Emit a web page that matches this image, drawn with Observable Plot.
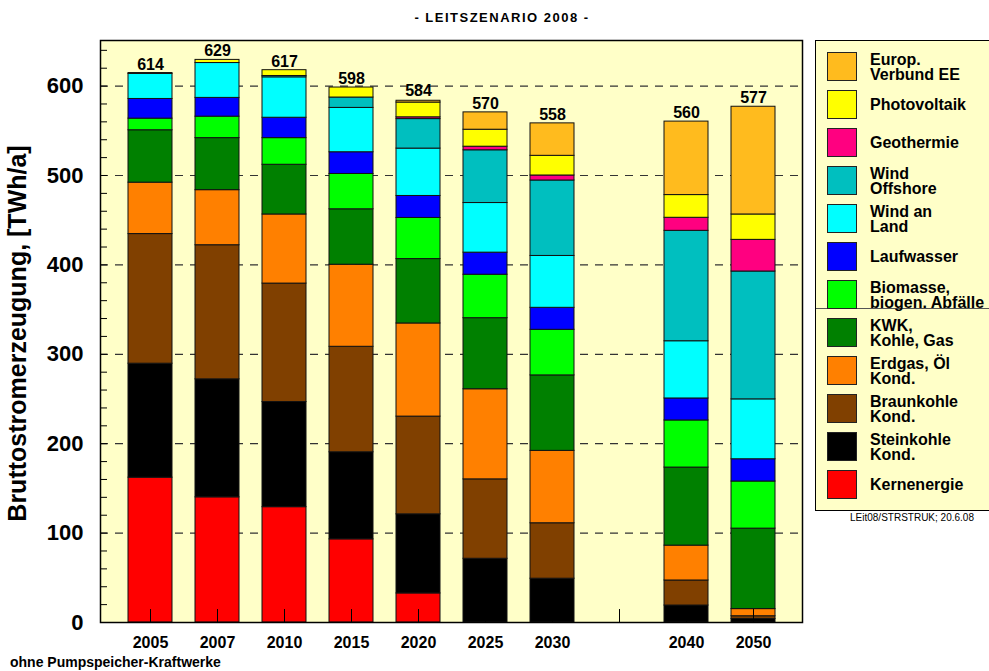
<!DOCTYPE html>
<html>
<head>
<meta charset="utf-8">
<script src="https://cdn.jsdelivr.net/npm/d3@7"></script>
<script src="https://cdn.jsdelivr.net/npm/@observablehq/plot@0.6"></script>
<style>
  html, body { margin: 0; padding: 0; background: #fff; overflow: hidden; }
  #wrap { position: relative; width: 989px; height: 671px; font-family: "Liberation Sans", Arial, sans-serif; color: #000; }
  #wrap svg { position: absolute; left: 0; top: 0; }
  .abs { position: absolute; white-space: nowrap; }
  #title { left: 0; width: 1004px; top: 11px; text-align: center; font-size: 13px; line-height: 13px; font-weight: bold; letter-spacing: 1.5px; }
  #foot { left: 10px; top: 655px; font-size: 14px; line-height: 14px; font-weight: bold; }
  #caption { left: 850px; top: 513px; font-size: 10px; line-height: 10px; }
  #legend { left: 815px; top: 40px; width: 190px; height: 471px; background: #FFFFC8; border: 1.5px solid #000; box-sizing: border-box; overflow: hidden; }
  .sw { position: absolute; left: 11px; width: 30px; height: 29px; border: 1px solid #222; box-sizing: border-box; }
  .lt { position: absolute; left: 54px; height: 29px; display: flex; align-items: center; font-size: 16px; line-height: 15px; font-weight: bold; white-space: pre; }
  #sep { position: absolute; left: 0; width: 100%; top: 267px; height: 1px; background: #555; }
</style>
</head>
<body>
<div id="wrap">
  <div id="title" class="abs">- LEITSZENARIO 2008 -</div>
  <div id="legend" class="abs"><div id="sep"></div></div>
  <div id="caption" class="abs">LEit08/STRSTRUK; 20.6.08</div>
  <div id="foot" class="abs">ohne Pumpspeicher-Kraftwerke</div>
</div>
<script>
// ---- data ----
const years = ["2005","2007","2010","2015","2020","2025","2030","2040","2050"];
const slots = ["2005","2007","2010","2015","2020","2025","2030","2035","2040","2050"];
const totals = [614, 629, 617, 598, 584, 570, 558, 560, 577];

const kernenergie = [162, 140, 129, 93, 32.5, 0, 0, 0, 0];
const steinkohle  = [127.5, 132, 117.6, 97.4, 88.5, 71.3, 49, 19, 4];
const braunkohle  = [145, 150, 132.5, 118, 109.3, 88.8, 62, 28, 3];
const erdgasOel   = [57.5, 61.6, 77.3, 91.8, 104.2, 100.8, 81, 39, 8];
const kwk         = [58.6, 58.2, 55.6, 62, 72, 79.5, 84.4, 87.3, 90];
const biomasse    = [13, 24, 29.8, 39.5, 46, 48.6, 51, 52.7, 52.7];
const laufwasser  = [22, 21, 22.8, 24.3, 24.6, 24.7, 24.6, 24.6, 24.9];
const windLand    = [28, 39, 45.2, 49.6, 53, 55.5, 58, 64, 67];
const windOffshore= [0, 0, 1.5, 11.6, 33, 59, 84.4, 123.5, 143];
const geothermie  = [0, 0, 0, 0, 2, 4, 5.6, 14.6, 35.4];
const photovoltaik= [1, 3.5, 6.5, 11.2, 16.5, 19, 22, 25.4, 28.4];
const europVerbund= [0, 0, 0, 0, 2, 19.4, 36.3, 82.2, 120.5];

// bottom to top
const seriesNames = ["Kernenergie","Steinkohle Kond.","Braunkohle Kond.","Erdgas, Öl Kond.","KWK, Kohle, Gas",
  "Biomasse, biogen. Abfälle","Laufwasser","Wind an Land","Wind Offshore","Geothermie","Photovoltaik","Europ. Verbund EE"];
const legendLabels = ["Kernenergie","Steinkohle\nKond.","Braunkohle\nKond.","Erdgas, Öl\nKond.","KWK,\nKohle, Gas",
  "Biomasse,\nbiogen. Abfälle","Laufwasser","Wind an\nLand","Wind\nOffshore","Geothermie","Photovoltaik","Europ.\nVerbund EE"];
const seriesColors = ["#FF0000","#000000","#804000","#FF8000","#008000","#00FF00","#0000FF","#00FFFF","#00BFBF","#FF0080","#FFFF00","#FFBB1E"];
const seriesValues = [kernenergie, steinkohle, braunkohle, erdgasOel, kwk, biomasse, laufwasser, windLand, windOffshore, geothermie, photovoltaik, europVerbund];

const yGrid = [100, 200, 300, 400, 500, 600];
const yLabels = [0, 100, 200, 300, 400, 500, 600];
const yMinor = d3.range(20, 660, 20);
const yTitle = "Bruttostromerzeugung, [TWh/a]";

// ---- build table ----
const rows = [];
seriesNames.forEach((s, si) => {
  years.forEach((yr, i) => {
    const v = seriesValues[si][i];
    if (v > 0) rows.push({year: yr, series: s, value: v});
  });
});
const totalRows = years.map((yr, i) => ({year: yr, total: totals[i]}));

const chart = Plot.plot({
  width: 989,
  height: 671,
  marginLeft: 100,
  marginRight: 187,
  marginTop: 40,
  marginBottom: 49,
  style: {fontFamily: "Liberation Sans, Arial, sans-serif", color: "#000", background: "transparent"},
  x: {type: "band", domain: slots, paddingInner: 0.347, paddingOuter: 0.37},
  y: {domain: [0, 651]},
  color: {domain: seriesNames, range: seriesColors, legend: false},
  marks: [
    Plot.frame({fill: "#FFFFC8", stroke: null}),
    Plot.ruleY(yGrid, {stroke: "#333", strokeWidth: 1.2, strokeDasharray: "8,7"}),
    Plot.tickY(yMinor, {y: d => d, insetRight: 695, stroke: "#000"}),
    Plot.barY(rows, {x: "year", y: "value", fill: "series", stroke: "#111", strokeWidth: 1}),
    Plot.ruleX(slots, {x: d => d, y1: 0, y2: 14.5, stroke: "#000", strokeWidth: 1}),
    Plot.text(totalRows, {x: "year", y: "total", text: d => String(d.total), lineAnchor: "bottom", dy: -4, fontSize: 16, fontWeight: "bold", fill: "#000"}),
    Plot.axisY(yLabels, {tickSize: 0, tickPadding: 17, fontSize: 22, fontWeight: "bold", label: null}),
    Plot.axisX({tickSize: 0, tickPadding: 14, fontSize: 16, fontWeight: "bold", label: null, tickFormat: d => d === "2035" ? "" : d}),
    Plot.text([yTitle], {frameAnchor: "left", textAnchor: "middle", dx: -83, dy: 2, rotate: -90, fontSize: 25, fontWeight: "bold", fill: "#000"}),
    Plot.frame({stroke: "#000", strokeWidth: 1.5})
  ]
});
document.getElementById("wrap").prepend(chart);

// ---- legend (top item = last series) ----
const legend = document.getElementById("legend");
for (let k = 0; k < seriesNames.length; k++) {
  const si = seriesNames.length - 1 - k;
  const top = 11 + 38 * k;
  const sw = document.createElement("div");
  sw.className = "sw";
  sw.style.top = top + "px";
  sw.style.background = seriesColors[si];
  legend.appendChild(sw);
  const lt = document.createElement("div");
  lt.className = "lt";
  lt.style.top = top + "px";
  lt.textContent = legendLabels[si];
  legend.appendChild(lt);
}
</script>
</body>
</html>
